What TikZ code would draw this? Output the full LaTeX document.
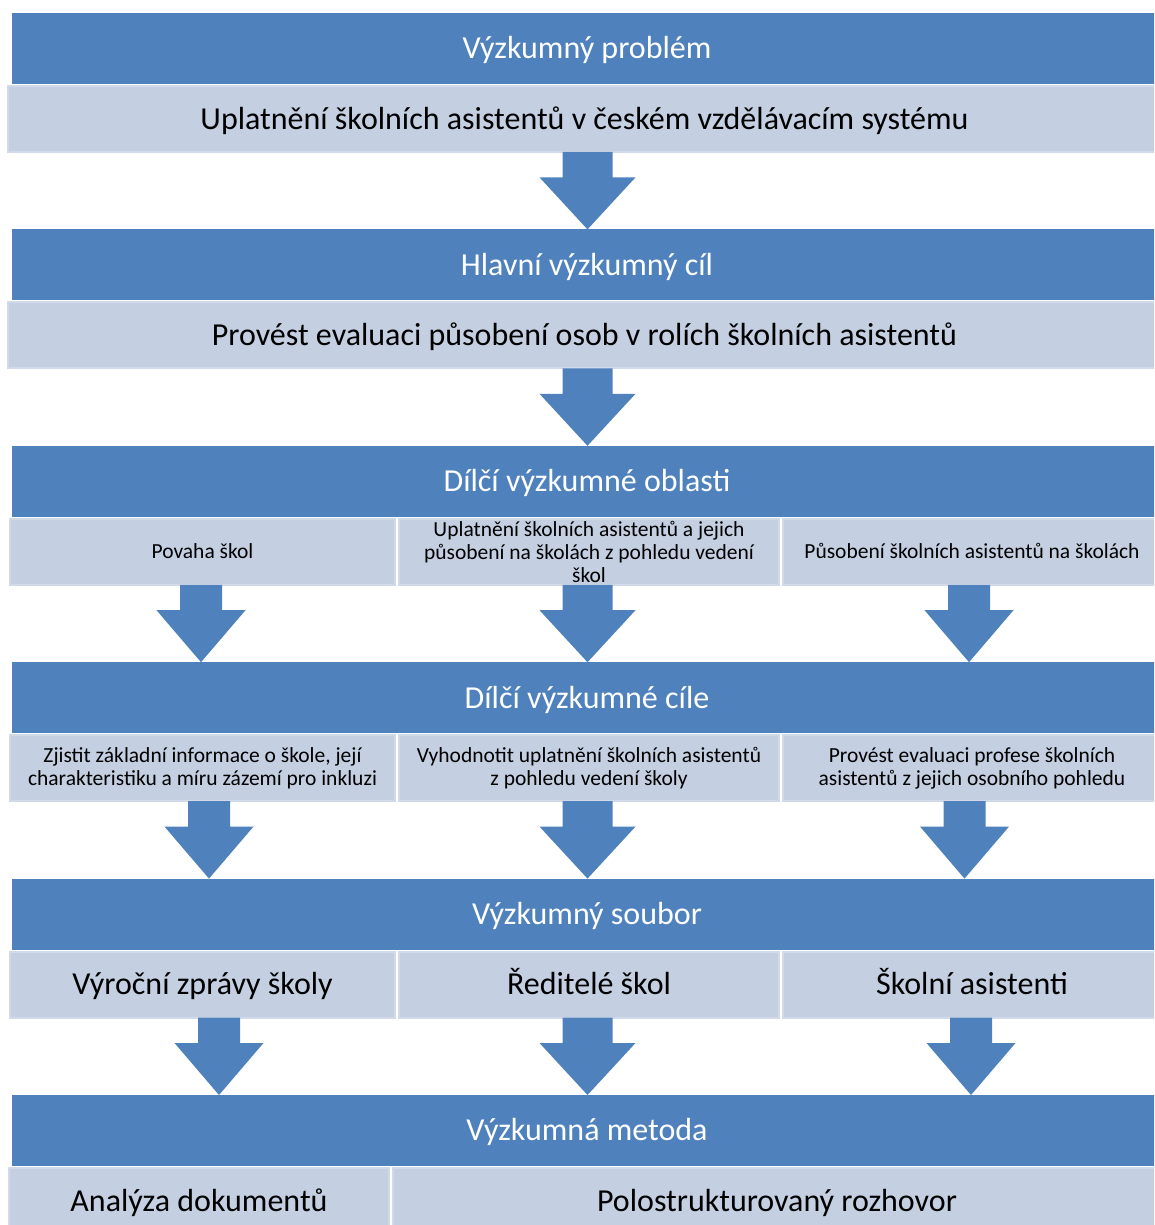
\documentclass[tikz,border=0pt]{standalone}
\usepackage{fontspec}
\setmainfont{Carlito}
\usetikzlibrary{positioning,calc}
\definecolor{headBlue}{RGB}{79,129,189}
\definecolor{subFill}{RGB}{196,207,226}
\definecolor{subLine}{RGB}{210,218,233}

% block arrow: from node, to node, x centre, half shaft, half head
\newcommand{\blockarrow}[5]{%
  \fill[arr] let \p1=(#1.south), \p2=(#2.north) in
    (#3pt-#4pt,\y1) -- (#3pt+#4pt,\y1) -- (#3pt+#4pt,\y2+52pt) -- (#3pt+#5pt,\y2+52pt)
    -- (#3pt,\y2) -- (#3pt-#5pt,\y2+52pt) -- (#3pt-#4pt,\y2+52pt) -- cycle;}

\begin{document}
\begin{tikzpicture}[
    x=1pt, y=-1pt,
    box/.style={inner sep=0pt, outer sep=0pt, align=center},
    bigLine/.style={text height=20.6pt, text depth=0pt},
    smallLine/.style={text height=14pt, text depth=0pt},
    boxHead/.style={box, bigLine, fill=headBlue, text=white, minimum width=1150pt, minimum height=71pt,
      font=\fontsize{32}{36}\selectfont},
    boxSub/.style={box, fill=subFill, draw=subLine, line width=2pt, minimum height=66pt,
      font=\fontsize{32}{36}\selectfont},
    boxSmall/.style={boxSub, font=\fontsize{21.5}{23}\selectfont},
    arr/.style={fill=headBlue}
  ]
    \useasboundingbox (0,0) rectangle (1154,1225);
    \clip (0,0) rectangle (1154,1225);

    \node[boxHead] (H1) at (587,48.5) {Výzkumný problém};
    \node[boxSub, bigLine, minimum width=1153pt, below=2pt of H1, xshift=-2.5pt] (S1)
      {Uplatnění školních asistentů v českém vzdělávacím systému};

    \node[boxHead] (H2) at (587,264.9) {Hlavní výzkumný cíl};
    \node[boxSub, bigLine, minimum width=1153pt, below=2pt of H2, xshift=-2.5pt] (S2)
      {Provést evaluaci působení osob v rolích školních asistentů};

    \node[boxHead] (H3) at (587,481.3) {Dílčí výzkumné oblasti};
    \node[boxSmall, smallLine, minimum width=385pt, below right=2pt and -2pt of H3.south west] (S3a) {Povaha škol};
    \node[boxSmall, minimum width=380pt, right=4pt of S3a] (S3b)
      {Uplatnění školních asistentů a jejich\\působení na školách z pohledu vedení\\škol};
    \node[boxSmall, smallLine, minimum width=378pt, right=4pt of S3b] (S3c) {Působení školních asistentů na školách};

    \node[boxHead] (H4) at (587,697.7) {Dílčí výzkumné cíle};
    \node[boxSmall, minimum width=385pt, below right=2pt and -2pt of H4.south west] (S4a)
      {Zjistit základní informace o škole, její\\charakteristiku a míru zázemí pro inkluzi};
    \node[boxSmall, minimum width=380pt, right=4pt of S4a] (S4b)
      {Vyhodnotit uplatnění školních asistentů\\z pohledu vedení školy};
    \node[boxSmall, minimum width=378pt, right=4pt of S4b] (S4c)
      {Provést evaluaci profese školních\\asistentů z jejich osobního pohledu};

    \node[boxHead] (H5) at (587,914.1) {Výzkumný soubor};
    \node[boxSub, bigLine, minimum width=385pt, below right=2pt and -2pt of H5.south west] (S5a) {Výroční zprávy školy};
    \node[boxSub, bigLine, minimum width=380pt, right=4pt of S5a] (S5b) {Ředitelé škol};
    \node[boxSub, bigLine, minimum width=378pt, right=4pt of S5b] (S5c) {Školní asistenti};

    \node[boxHead] (H6) at (587,1130.5) {Výzkumná metoda};
    \node[boxSub, bigLine, minimum width=380pt, below right=2pt and -3pt of H6.south west] (S6a) {Analýza dokumentů};
    \node[boxSub, bigLine, minimum width=768pt, right=4pt of S6a] (S6b) {Polostrukturovaný rozhovor};

    % arrows between rows
    \blockarrow{S1}{H2}{587.5}{25}{48}
    \blockarrow{S2}{H3}{587.5}{25}{48}
    \blockarrow{S3a}{H4}{201}{21}{44.5}
    \blockarrow{S3b}{H4}{587.5}{25}{48}
    \blockarrow{S3c}{H4}{969}{21}{44.5}
    \blockarrow{S4a}{H5}{209}{21}{44.5}
    \blockarrow{S4b}{H5}{587.5}{25}{48}
    \blockarrow{S4c}{H5}{964.5}{21}{44.5}
    \blockarrow{S5a}{H6}{219}{21}{44.5}
    \blockarrow{S5b}{H6}{587.5}{25}{48}
    \blockarrow{S5c}{H6}{971}{21}{44.5}
\end{tikzpicture}
\end{document}
